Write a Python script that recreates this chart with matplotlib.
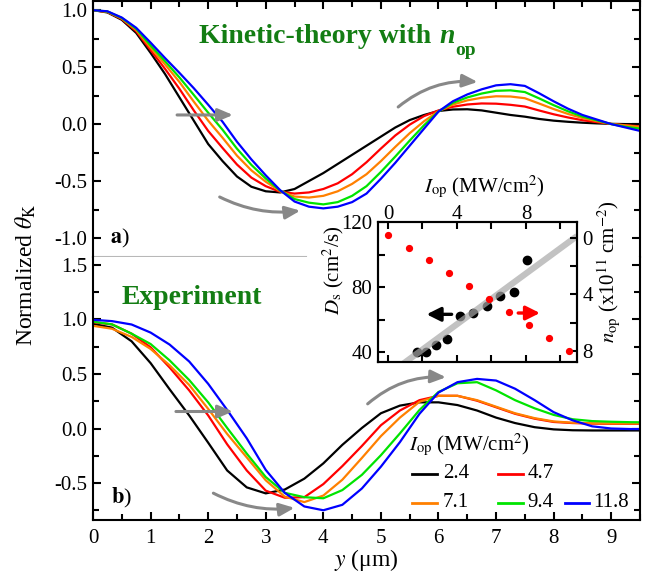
import matplotlib
matplotlib.use("Agg")
import matplotlib.pyplot as plt
from matplotlib.patches import FancyArrowPatch
from matplotlib.ticker import MultipleLocator, FormatStrFormatter

plt.rcParams["font.family"] = ["Liberation Serif", "DejaVu Serif"]
plt.rcParams["mathtext.fontset"] = "stix"
plt.rcParams["axes.unicode_minus"] = False
plt.rcParams["axes.linewidth"] = 1.5

# ---------------- data ----------------
intensities = ["2.4", "4.7", "7.1", "9.4", "11.8"]   # I_op (MW/cm^2)
colors = ["#000000", "#ff0000", "#ff8000", "#00e400", "#0000ff"]

# (a) kinetic theory with n_op
theory_y = [0.00, 0.25, 0.50, 0.75, 1.00, 1.25, 1.50, 1.75, 2.00, 2.25,
            2.50, 2.75, 3.00, 3.25, 3.50, 3.75, 4.00, 4.25, 4.50, 4.75,
            5.00, 5.25, 5.50, 5.75, 6.00, 6.25, 6.50, 6.75, 7.00, 7.25,
            7.50, 7.75, 8.00, 8.25, 8.50, 8.75, 9.00, 9.25, 9.50]
theory_24 = [1.00, 0.98, 0.915, 0.80, 0.625, 0.44, 0.235, 0.03, -0.175, -0.325,
             -0.46, -0.55, -0.59, -0.60, -0.57, -0.50, -0.43, -0.35, -0.27, -0.19,
             -0.11, -0.03, 0.035, 0.08, 0.115, 0.128, 0.13, 0.12, 0.10, 0.08,
             0.065, 0.045, 0.03, 0.02, 0.012, 0.006, 0.002, 0.0, 0.0]
theory_47 = [1.00, 0.983, 0.922, 0.815, 0.65, 0.485, 0.31, 0.12, -0.06, -0.21,
             -0.355, -0.47, -0.545, -0.595, -0.61, -0.60, -0.57, -0.52, -0.44, -0.335,
             -0.215, -0.10, -0.005, 0.07, 0.12, 0.152, 0.172, 0.181, 0.179, 0.169,
             0.154, 0.119, 0.086, 0.058, 0.034, 0.017, 0.001, -0.01, -0.02]
theory_71 = [1.00, 0.986, 0.927, 0.827, 0.67, 0.524, 0.37, 0.197, 0.03, -0.12,
             -0.277, -0.406, -0.506, -0.588, -0.636, -0.645, -0.63, -0.59, -0.525, -0.44,
             -0.325, -0.20, -0.08, 0.025, 0.113, 0.171, 0.208, 0.231, 0.244, 0.242,
             0.227, 0.18, 0.132, 0.089, 0.053, 0.026, 0.001, -0.012, -0.025]
theory_94 = [1.00, 0.988, 0.931, 0.836, 0.69, 0.552, 0.41, 0.256, 0.10, -0.05,
             -0.216, -0.358, -0.478, -0.584, -0.658, -0.69, -0.705, -0.685, -0.63, -0.545,
             -0.42, -0.285, -0.145, -0.01, 0.11, 0.186, 0.234, 0.268, 0.292, 0.296,
             0.281, 0.225, 0.166, 0.112, 0.066, 0.033, 0.0, -0.024, -0.04]
theory_118 = [1.00, 0.99, 0.935, 0.845, 0.715, 0.58, 0.45, 0.315, 0.17, 0.02,
              -0.155, -0.31, -0.45, -0.58, -0.68, -0.725, -0.74, -0.725, -0.685, -0.61,
              -0.48, -0.34, -0.19, -0.04, 0.11, 0.20, 0.26, 0.305, 0.34, 0.35,
              0.335, 0.27, 0.20, 0.135, 0.08, 0.04, 0.0, -0.03, -0.06]

# (b) experiment
exp_y = [0.00, 0.33, 0.67, 1.00, 1.33, 1.67, 2.00, 2.33, 2.67, 3.00,
         3.33, 3.67, 4.00, 4.33, 4.67, 5.00, 5.33, 5.67, 6.00, 6.33,
         6.67, 7.00, 7.33, 7.67, 8.00, 8.33, 8.67, 9.00, 9.33, 9.67]
exp_24 = [0.96, 0.925, 0.80, 0.60, 0.36, 0.12, -0.13, -0.385, -0.54, -0.595,
          -0.56, -0.46, -0.32, -0.15, 0.005, 0.14, 0.21, 0.24, 0.24, 0.215,
          0.165, 0.10, 0.05, 0.012, -0.008, -0.016, -0.018, -0.018, -0.018, -0.018]
exp_47 = [0.975, 0.955, 0.87, 0.745, 0.56, 0.35, 0.12, -0.145, -0.385, -0.57,
          -0.635, -0.63, -0.51, -0.345, -0.16, 0.03, 0.165, 0.26, 0.30, 0.30,
          0.255, 0.195, 0.135, 0.09, 0.06, 0.05, 0.045, 0.043, 0.043, 0.043]
exp_71 = [0.942, 0.915, 0.84, 0.73, 0.58, 0.40, 0.18, -0.05, -0.265, -0.475,
          -0.625, -0.675, -0.615, -0.47, -0.27, -0.07, 0.10, 0.245, 0.30, 0.30,
          0.26, 0.20, 0.14, 0.095, 0.065, 0.053, 0.048, 0.046, 0.046, 0.046]
exp_94 = [0.98, 0.955, 0.87, 0.775, 0.625, 0.445, 0.24, 0.005, -0.23, -0.445,
          -0.59, -0.63, -0.64, -0.565, -0.425, -0.245, -0.045, 0.17, 0.335, 0.415,
          0.425, 0.35, 0.26, 0.185, 0.125, 0.085, 0.068, 0.062, 0.058, 0.056]
exp_118 = [0.997, 0.985, 0.954, 0.88, 0.77, 0.615, 0.41, 0.17, -0.09, -0.38,
           -0.59, -0.715, -0.75, -0.70, -0.55, -0.35, -0.125, 0.135, 0.33, 0.425,
           0.455, 0.44, 0.365, 0.26, 0.15, 0.075, 0.02, 0.0, -0.005, -0.005]

theory = [theory_24, theory_47, theory_71, theory_94, theory_118]
experiment = [exp_24, exp_47, exp_71, exp_94, exp_118]

# inset: spin diffusion coefficient and photo-carrier density vs. I_op
ds_iop = [1.66, 2.20, 2.76, 3.42, 4.17, 4.91, 5.72, 6.51, 7.28, 8.06]
ds_val = [40.4, 40.4, 44.5, 48.3, 62.0, 64.0, 68.3, 74.3, 76.9, 96.5]
nop_iop = [0.02, 1.20, 2.40, 3.56, 4.67, 5.86, 7.01, 8.19, 9.35, 10.50]
nop_val = [-0.22, 0.70, 1.60, 2.49, 3.43, 4.33, 5.27, 6.16, 7.06, 8.00]
fit_slope = 7.78
fit_intercept = 26.1

# ---------------- figure ----------------
fig = plt.figure(figsize=(6.56, 5.75), dpi=100)
ax_a = fig.add_axes([0.1418, 0.553, 0.8338, 0.445])
ax_b = fig.add_axes([0.1418, 0.0957, 0.8338, 0.4573])

for ax in (ax_a, ax_b):
    ax.set_xlim(0, 9.5)
    ax.xaxis.set_major_locator(MultipleLocator(1))
    ax.xaxis.set_minor_locator(MultipleLocator(0.5))
    ax.yaxis.set_major_locator(MultipleLocator(0.5))
    ax.yaxis.set_minor_locator(MultipleLocator(0.25))
    ax.yaxis.set_major_formatter(FormatStrFormatter("%.1f"))
    ax.tick_params(which="both", direction="in", width=1.5, labelsize=15)
    ax.tick_params(which="major", length=6)
    ax.tick_params(which="minor", length=4)
    ax.tick_params(axis="y", which="both", left=True, right=True, pad=4)

ax_a.set_ylim(-1.167, 1.079)
ax_a.spines["bottom"].set_visible(False)
ax_a.tick_params(axis="x", which="both", top=True, bottom=False, labelbottom=False)
ax_b.set_ylim(-0.839, 1.573)
ax_b.spines["top"].set_visible(False)
ax_b.tick_params(axis="x", which="both", top=False, bottom=True, pad=6.5)

# divider between the two panels
ax_a.plot([0, 0.39], [0, 0], transform=ax_a.transAxes, color="#b8b8b8",
          lw=1.5, clip_on=False, zorder=1)

for vals, c in zip(theory, colors):
    ax_a.plot(theory_y, vals, color=c, lw=1.6)
for vals, c in zip(experiment, colors):
    ax_b.plot(exp_y, vals, color=c, lw=1.6)


def gray_arrow(ax, p0, p1, rad):
    ax.add_patch(FancyArrowPatch(
        p0, p1, connectionstyle=f"arc3,rad={rad}",
        arrowstyle="-|>,head_length=0.75,head_width=0.32", mutation_scale=12,
        lw=2.2, color="#888888", shrinkA=0, shrinkB=0, zorder=4))


gray_arrow(ax_a, (1.46, 0.08), (2.43, 0.08), 0)
gray_arrow(ax_a, (2.20, -0.64), (3.60, -0.76), 0.15)
gray_arrow(ax_a, (5.30, 0.15), (6.68, 0.37), -0.2)
gray_arrow(ax_b, (1.44, 0.156), (2.43, 0.156), 0)
gray_arrow(ax_b, (2.09, -0.593), (3.50, -0.728), 0.15)
gray_arrow(ax_b, (4.77, 0.226), (6.13, 0.47), -0.2)

green = "#137d13"
ax_b.text(0.50, 1.138, "Experiment", color=green, fontsize=20,
          fontweight="bold", va="baseline")
t_kin = ax_a.text(1.84, 0.71, "Kinetic-theory with", color=green, fontsize=20,
                  fontweight="bold", va="baseline")
ax_a.text(0.30, -1.0, r"$\mathbf{a}$)", fontsize=16, va="center")
ax_b.text(0.32, -0.64, r"$\mathbf{b}$)", fontsize=16, va="center")

# legend
lx = [(0.583, 0.629, 0.640), (0.740, 0.786, 0.795), (0.863, 0.907, 0.914)]
ly = [0.175, 0.065]
slots = [(0, 0), (1, 0), (0, 1), (1, 1), (2, 1)]
ax_b.text(0.578, 0.285, r"$I_{\rm op}$ (MW/cm$^2$)", transform=ax_b.transAxes,
          fontsize=15, va="center")
for (col, row), lab, c in zip(slots, intensities, colors):
    x0, x1, xt = lx[col]
    ax_b.plot([x0, x1], [ly[row], ly[row]], color=c, lw=2,
              transform=ax_b.transAxes)
    ax_b.text(xt, ly[row], lab, transform=ax_b.transAxes, fontsize=15,
              va="center")

fig.text(0.040, 0.522, r"Normalized $\theta_{\rm K}$", rotation=90,
         ha="center", va="center", fontsize=17)
fig.text(0.558, 0.026, r"$y$ (μm)", ha="center", va="center", fontsize=17)

# ---------------- inset ----------------
ax_in = fig.add_axes([0.5762, 0.3704, 0.3034, 0.2435])
ax_in.set_xlim(-0.58, 10.96)
ax_in.set_ylim(34.0, 120.0)
ax_n = ax_in.twinx()
ax_n.set_ylim(8.78, -1.11)

ax_in.plot(ds_iop, ds_val, "o", color="black", ms=6, zorder=2)
fx = [-0.58, 10.96]
ax_in.plot(fx, [fit_intercept + fit_slope * v for v in fx], color="#a8a8a8",
           lw=4.5, alpha=0.7, zorder=3, solid_capstyle="butt")
ax_n.plot(nop_iop, nop_val, "o", color="red", ms=4.2)

ax_in.xaxis.set_major_locator(MultipleLocator(4))
ax_in.xaxis.set_minor_locator(MultipleLocator(2))
ax_in.yaxis.set_major_locator(MultipleLocator(40))
ax_in.yaxis.set_minor_locator(MultipleLocator(20))
ax_n.yaxis.set_major_locator(MultipleLocator(4))
ax_n.yaxis.set_minor_locator(MultipleLocator(2))
ax_in.tick_params(which="both", direction="in", width=1.5, labelsize=15,
                  top=True, bottom=True, labeltop=True, labelbottom=False,
                  right=False)
ax_in.tick_params(axis="y", pad=4)
ax_in.tick_params(axis="x", pad=-1.5)
ax_in.tick_params(which="major", length=5)
ax_in.tick_params(which="minor", length=5)
ax_n.tick_params(which="both", direction="in", width=1.5, labelsize=15,
                 length=5, pad=4)


def inset_arrow(p0, p1, c):
    ax_in.add_patch(FancyArrowPatch(
        p0, p1, arrowstyle="-|>,head_length=0.7,head_width=0.35",
        mutation_scale=12, lw=2.4, color=c, shrinkA=0, shrinkB=0, zorder=4))


inset_arrow((3.69, 63.3), (2.24, 63.3), "black")
inset_arrow((7.55, 64.1), (8.81, 64.1), "red")

fig.text(0.5076, 0.530, r"$D_{\rm s}$ (cm$^2$/s)", rotation=90,
         ha="center", va="center", fontsize=15)
fig.text(0.927, 0.527, r"$n_{\rm op}$ (x10$^{11}$ cm$^{-2}$)", rotation=90,
         ha="center", va="center", fontsize=15)
fig.text(0.738, 0.676, r"$I_{\rm op}$ (MW/cm$^2$)", ha="center", va="center",
         fontsize=15)

# italic n with subscript after the panel (a) heading
fig.canvas.draw()
renderer = fig.canvas.get_renderer()
bb = t_kin.get_window_extent(renderer)
base_y = ax_a.transData.transform((1.84, 0.71))[1]
inv = ax_a.transData.inverted()
nx, ny = inv.transform((bb.x1 + 8, base_y))
t_n = ax_a.text(nx, ny, "n", color=green, fontsize=20, fontweight="bold",
                fontstyle="italic", va="baseline")
bbn = t_n.get_window_extent(renderer)
ox, oy = inv.transform((bbn.x1 + 1, base_y - 12))
ax_a.text(ox, oy, "op", color=green, fontsize=14, fontweight="bold",
          va="baseline")

fig.savefig("out.png", dpi=100)
